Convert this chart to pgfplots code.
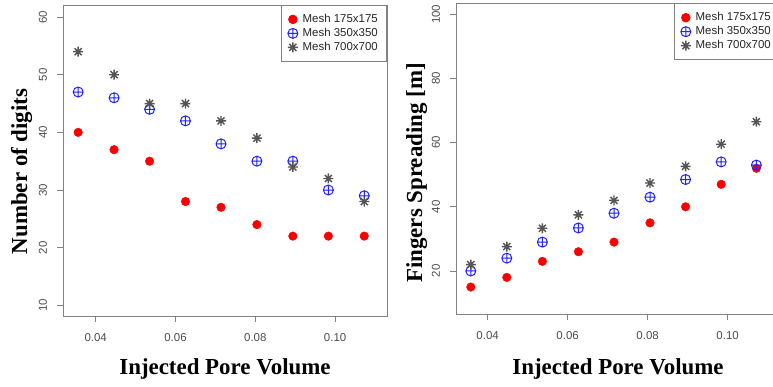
\documentclass[border={0pt 0pt -8bp 0pt}]{standalone}
\usepackage{pgfplots}
\pgfplotsset{compat=1.18}
\usepackage{fontspec}
\setmainfont{Liberation Serif}
\newfontfamily\arial{Liberation Sans}
\definecolor{rblue}{RGB}{35,35,255}
\definecolor{rred}{RGB}{250,0,0}
\definecolor{rgray}{RGB}{85,85,85}
\definecolor{boxgray}{RGB}{130,130,130}
\pgfdeclareplotmark{rstar}{%
 \pgfpathmoveto{\pgfqpoint{-\pgfplotmarksize}{0pt}}\pgfpathlineto{\pgfqpoint{\pgfplotmarksize}{0pt}}%
 \pgfpathmoveto{\pgfqpoint{0pt}{-\pgfplotmarksize}}\pgfpathlineto{\pgfqpoint{0pt}{\pgfplotmarksize}}%
 \pgfpathmoveto{\pgfpointpolar{45}{\pgfplotmarksize}}\pgfpathlineto{\pgfpointpolar{225}{\pgfplotmarksize}}%
 \pgfpathmoveto{\pgfpointpolar{135}{\pgfplotmarksize}}\pgfpathlineto{\pgfpointpolar{315}{\pgfplotmarksize}}%
 \pgfusepathqstroke}
\pgfplotsset{
 rstyle/.style={
  scale only axis, width=324bp,
  axis line style={boxgray, line width=0.8bp},
  tick style={boxgray, line width=0.8bp},
  tick align=outside, major tick length=6bp,
  xtick pos=bottom, ytick pos=left,
  xtick={0.04,0.06,0.08,0.10},
  xticklabels={0.04,0.06,0.08,0.10},
  xticklabel style={font=\arial\fontsize{11.5}{13}\selectfont, text=black!70, anchor=center, yshift=-16bp},
  yticklabel style={font=\arial\fontsize{11.5}{13}\selectfont, text=black!70, xshift=-14bp, rotate=90, anchor=center},
  /pgf/number format/assume math mode=true,
  label style={font=\fontsize{23}{26}\selectfont\bfseries},
  legend style={at={(1,1)}, anchor=north east, draw=boxgray, line width=0.8bp, fill=white,
    font=\arial\fontsize{11.5}{12}\selectfont, inner xsep=5bp, inner ysep=7bp,
    row sep=0bp, cells={anchor=west},
    nodes={inner xsep=3.8bp, inner ysep=1.5bp, text height=8.5bp, text depth=2.5bp, text=black!85}},
  legend image code/.code={\path[draw=none,fill=none] (0bp,-4bp) rectangle (12bp,4bp);\draw[#1] plot coordinates {(6bp,0bp)};},
 },
 sred/.style={only marks, mark=*, mark size=4.3bp, color=rred},
 sblue/.style={only marks, mark=oplus, mark size=5bp, color=rblue, mark options={line width=1bp}},
 sgray/.style={only marks, mark=rstar, mark size=5bp, color=rgray, mark options={line width=1.4bp}},
}
\begin{document}
\begin{tikzpicture}
\path (0bp,0bp) rectangle (781bp,387bp);
\begin{axis}[rstyle, at={(63bp,71bp)}, anchor=south west, height=311bp,
  xmin=0.0318, xmax=0.113, ymin=8.14, ymax=62.1,
  ytick={10,20,30,40,50,60},
  xlabel={Injected Pore Volume}, ylabel={Number of digits},
  xlabel style={at={(axis description cs:0.5,0)}, anchor=base, yshift=-58bp},
  ylabel style={at={(axis description cs:-0.1111,0.465)}, anchor=base},
]
\addplot[sred] coordinates {(0.0356,40)(0.0446,37)(0.0535,35)(0.0625,28)(0.0714,27)(0.0804,24)(0.0894,22)(0.0983,22)(0.1073,22)};
\addlegendentry{Mesh 175x175}
\addplot[sblue] coordinates {(0.0356,47)(0.0446,46)(0.0535,44)(0.0625,42)(0.0714,38)(0.0804,35)(0.0894,35)(0.0983,30)(0.1073,29)};
\addlegendentry{Mesh 350x350}
\addplot[sgray] coordinates {(0.0356,54)(0.0446,50)(0.0535,45)(0.0625,45)(0.0714,42)(0.0804,39)(0.0894,34)(0.0983,32)(0.1073,28)};
\addlegendentry{Mesh 700x700}
\end{axis}
\begin{axis}[rstyle, at={(456bp,73bp)}, anchor=south west, height=310.7bp,
  xmin=0.0321, xmax=0.1131, ymin=6.6, ymax=103.4,
  ytick={20,40,60,80,100},
  xlabel={Injected Pore Volume}, ylabel={Fingers Spreading [m]},
  xlabel style={at={(axis description cs:0.5,0)}, anchor=base, yshift=-60bp},
  ylabel style={at={(axis description cs:-0.1049,0.454)}, anchor=base},
]
\addplot[sred] coordinates {(0.0358,15)(0.0448,18)(0.0537,23)(0.0627,26)(0.0716,29)(0.0806,35)(0.0895,40)(0.0984,47)(0.1072,52)};
\addlegendentry{Mesh 175x175}
\addplot[sblue] coordinates {(0.0358,20)(0.0448,24)(0.0537,29)(0.0627,33.4)(0.0716,38)(0.0806,43)(0.0895,48.5)(0.0984,54)(0.1072,53)};
\addlegendentry{Mesh 350x350}
\addplot[sgray] coordinates {(0.0358,22)(0.0448,27.6)(0.0537,33.3)(0.0627,37.5)(0.0716,42)(0.0806,47.4)(0.0895,52.6)(0.0984,59.5)(0.1072,66.5)};
\addlegendentry{Mesh 700x700}
\end{axis}
\end{tikzpicture}
\end{document}
